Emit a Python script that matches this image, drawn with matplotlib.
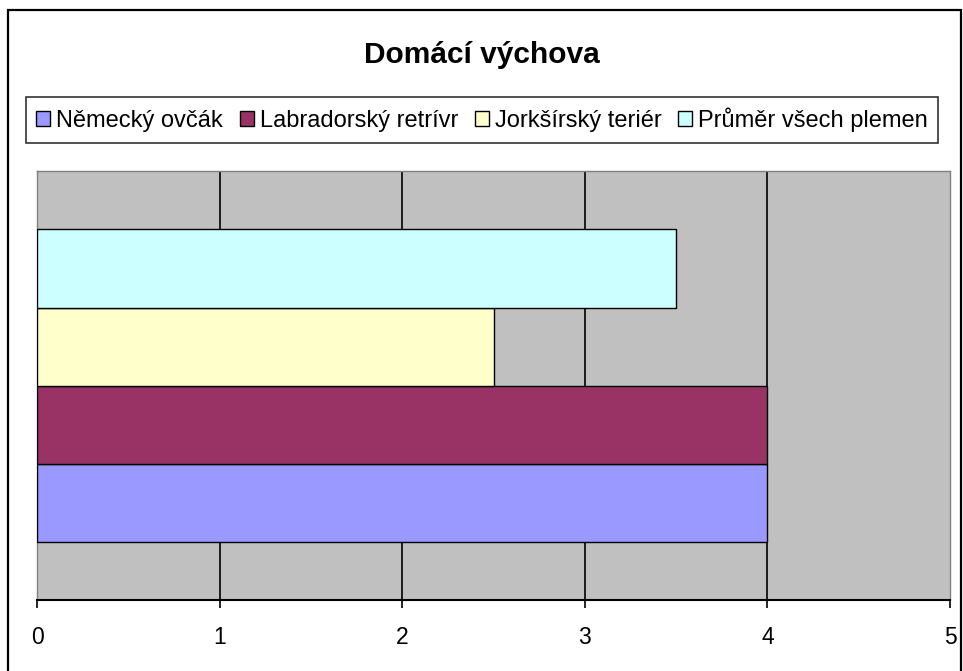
import matplotlib
matplotlib.use("Agg")
import matplotlib.pyplot as plt
from matplotlib.patches import Rectangle, Patch

plt.rcParams['font.family'] = ['Liberation Sans', 'DejaVu Sans']

title = "Domácí výchova"
series = ["Německý ovčák", "Labradorský retrívr", "Jorkšírský teriér", "Průměr všech plemen"]
values = [4, 4, 2.5, 3.5]
colors = ["#9999FF", "#993366", "#FFFFCC", "#CCFFFF"]
xticks = [0, 1, 2, 3, 4, 5]

W, H = 963, 671
fig = plt.figure(figsize=(W / 100, H / 100), dpi=100)

# outer chart border
fig.add_artist(Rectangle((8 / W, -0.05), (961 - 8) / W, 1.05 - 10 / H,
                         transform=fig.transFigure, fill=False,
                         edgecolor="black", linewidth=1.6))

ax = fig.add_axes([37 / W, (H - 600) / H, (950 - 37) / W, (600 - 171) / H])
ax.set_facecolor("#C0C0C0")

n = len(series)
group = 312 / 429
h = group / n
start = 0.5 - group / 2
for i, (name, v, c) in enumerate(zip(series, values, colors)):
    ax.barh(start + h * (i + 0.5), v, height=h, color=c, edgecolor="black",
            linewidth=1.0, zorder=3, label=name)

ax.set_xlim(0, 5)
ax.set_ylim(0, 1)
ax.set_yticks([])
ax.set_xticks(xticks)
ax.set_xticklabels([str(t) for t in xticks], fontsize=16.5)
ax.tick_params(axis="x", length=6, width=1.2, color="black", pad=13)
for t in xticks[1:-1]:
    ax.axvline(t, color="black", linewidth=1.2, zorder=2)

for s in ["left", "right", "top"]:
    ax.spines[s].set_color("#808080")
    ax.spines[s].set_linewidth(1.0)
ax.spines["bottom"].set_color("black")
ax.spines["bottom"].set_linewidth(1.5)
ax.spines["bottom"].set_zorder(4)

fig.text(0.5, 1 - 55 / H, title, ha="center", va="center",
         fontsize=21.5, fontweight="bold")

handles = [Patch(facecolor=c, edgecolor="black", linewidth=1.0) for c in colors]
leg = fig.legend(handles, series, loc="center", ncol=4,
                 bbox_to_anchor=((24 + 940) / 2 / W, 1 - 120 / H),
                 frameon=True, fontsize=17, handlelength=0.6,
                 handleheight=0.6, handletextpad=0.25, columnspacing=0.7,
                 borderpad=0.45, fancybox=False, borderaxespad=0)
leg.get_frame().set_edgecolor("black")
leg.get_frame().set_linewidth(1.2)

fig.savefig("out.png", dpi=100)
